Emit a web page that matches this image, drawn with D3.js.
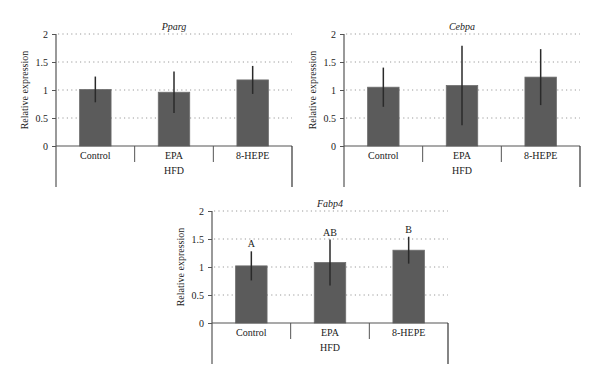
<!DOCTYPE html>
<html>
<head>
<meta charset="utf-8">
<script src="https://cdn.jsdelivr.net/npm/d3@7"></script>
<style>
html,body{margin:0;padding:0;background:#fff;}
svg{display:block;}
text{font-family:"Liberation Serif","DejaVu Serif",serif;fill:#222;}
</style>
</head>
<body>
<svg id="chart" width="600" height="385"></svg>
<script>
const categories = ["Control", "EPA", "8-HEPE"];
const groupLabel = "HFD";
const yTicks = [0, 0.5, 1, 1.5, 2];
const yTickLabels = ["0", "0.5", "1", "1.5", "2"];

const ppargMean = [1.01, 0.96, 1.18];
const ppargErr  = [0.23, 0.37, 0.25];

const cebpaMean = [1.05, 1.08, 1.23];
const cebpaErr  = [0.35, 0.71, 0.50];

const fabp4Mean = [1.02, 1.08, 1.30];
const fabp4Err  = [0.26, 0.41, 0.24];
const fabp4Letters = ["A", "AB", "B"];

const svg = d3.select("#chart");

function drawPanel(opt) {
  const g = svg.append("g");
  const x = d3.scaleBand().domain(categories).range([opt.x0, opt.x1]).paddingInner(0).paddingOuter(0);
  const y = d3.scaleLinear().domain([0, 2]).range([opt.yBase, opt.yTop]);

  // dotted grid
  g.selectAll(".grid").data(yTicks.filter(d => d > 0)).enter().append("line")
    .attr("x1", opt.x0 + 2).attr("x2", opt.x1)
    .attr("y1", d => y(d)).attr("y2", d => y(d))
    .attr("stroke", "#9a9a9a").attr("stroke-width", 1)
    .attr("stroke-dasharray", "1.2,3.2");

  // bars
  const bw = x.bandwidth() * 0.4;
  g.selectAll(".bar").data(categories).enter().append("rect")
    .attr("x", d => x(d) + x.bandwidth() / 2 - bw / 2)
    .attr("width", bw)
    .attr("y", (d, i) => y(opt.mean[i]))
    .attr("height", (d, i) => y(0) - y(opt.mean[i]))
    .attr("fill", "#5b5b5b").attr("stroke", "#6e6e6e").attr("stroke-width", 0.8);

  // error bars
  g.selectAll(".err").data(categories).enter().append("line")
    .attr("x1", d => x(d) + x.bandwidth() / 2).attr("x2", d => x(d) + x.bandwidth() / 2)
    .attr("y1", (d, i) => y(opt.mean[i] + opt.err[i]))
    .attr("y2", (d, i) => y(opt.mean[i] - opt.err[i]))
    .attr("stroke", "#2a2a2a").attr("stroke-width", 1.5);

  // letters
  if (opt.letters) {
    g.selectAll(".let").data(categories).enter().append("text")
      .attr("x", d => x(d) + x.bandwidth() / 2)
      .attr("y", (d, i) => y(opt.mean[i] + opt.err[i]) - 4)
      .attr("text-anchor", "middle").attr("font-size", 10)
      .text((d, i) => opt.letters[i]);
  }

  // y axis
  const yAxis = d3.axisLeft(y).tickValues(yTicks).tickFormat((d, i) => yTickLabels[i]).tickSize(4).tickPadding(4);
  const ya = g.append("g").attr("transform", `translate(${opt.x0},0)`).call(yAxis);
  ya.select(".domain").remove();
  ya.selectAll(".tick line").attr("stroke", "#555");
  ya.selectAll(".tick text").attr("font-size", 10).attr("fill", "#222")
    .style("font-family", '"Liberation Serif","DejaVu Serif",serif');

  // axis lines
  g.append("line").attr("x1", opt.x0).attr("x2", opt.x0).attr("y1", opt.yTop).attr("y2", opt.yBottom)
    .attr("stroke", "#555").attr("stroke-width", 1.2);
  g.append("line").attr("x1", opt.x0).attr("x2", opt.x1).attr("y1", y(0)).attr("y2", y(0))
    .attr("stroke", "#555").attr("stroke-width", 1.2);
  g.append("line").attr("x1", opt.x1).attr("x2", opt.x1).attr("y1", y(0)).attr("y2", opt.yBottom)
    .attr("stroke", "#333").attr("stroke-width", 1.2);

  // separators
  g.selectAll(".sep").data(categories.slice(1)).enter().append("line")
    .attr("x1", d => x(d)).attr("x2", d => x(d))
    .attr("y1", y(0)).attr("y2", y(0) + 16)
    .attr("stroke", "#555").attr("stroke-width", 1);

  // category labels
  g.selectAll(".cat").data(categories).enter().append("text")
    .attr("x", d => x(d) + x.bandwidth() / 2).attr("y", y(0) + 12.5)
    .attr("text-anchor", "middle").attr("font-size", 10).text(d => d);

  g.append("text").attr("x", (opt.x0 + opt.x1) / 2).attr("y", y(0) + 27.5)
    .attr("text-anchor", "middle").attr("font-size", 10).text(groupLabel);

  // title
  g.append("text").attr("x", (opt.x0 + opt.x1) / 2).attr("y", opt.yTop - 4)
    .attr("text-anchor", "middle").attr("font-size", 10).attr("font-style", "italic").text(opt.title);

  // y label
  g.append("text")
    .attr("transform", `translate(${opt.x0 - 28},${(opt.yTop + y(0)) / 2}) rotate(-90)`)
    .attr("text-anchor", "middle").attr("font-size", 10).text("Relative expression");
}

drawPanel({title: "Pparg", mean: ppargMean, err: ppargErr, x0: 56, x1: 292, yTop: 34, yBase: 146, yBottom: 187});
drawPanel({title: "Cebpa", mean: cebpaMean, err: cebpaErr, x0: 344, x1: 580, yTop: 34, yBase: 146, yBottom: 187});
drawPanel({title: "Fabp4", mean: fabp4Mean, err: fabp4Err, letters: fabp4Letters, x0: 212, x1: 448, yTop: 211, yBase: 323, yBottom: 364});
</script>
</body>
</html>
